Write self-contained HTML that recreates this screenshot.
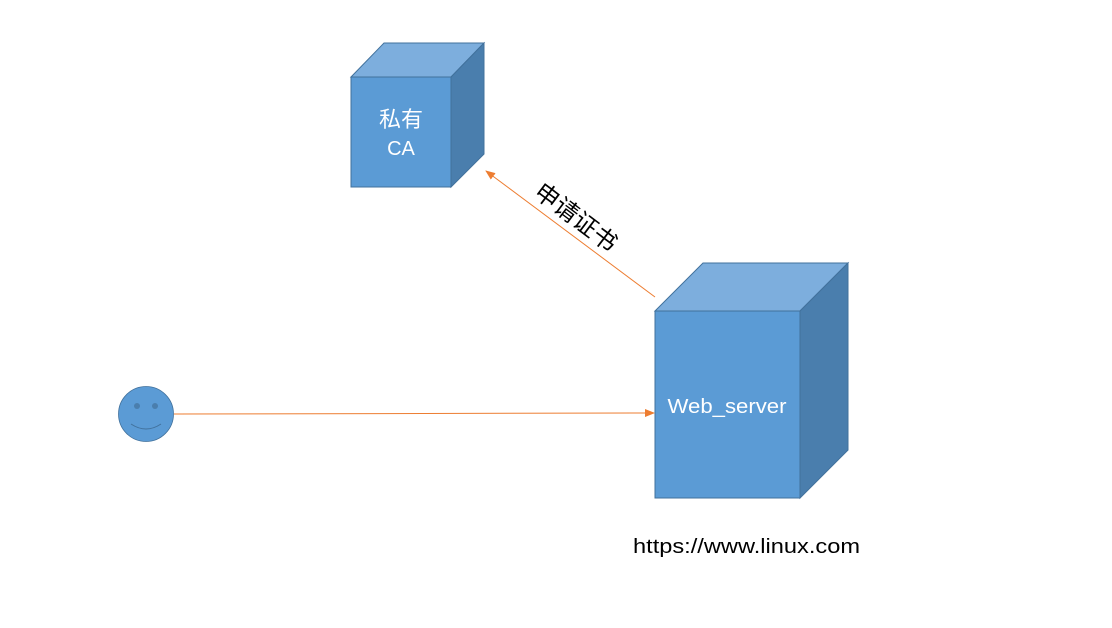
<!DOCTYPE html>
<html>
<head>
<meta charset="utf-8">
<style>
html,body{margin:0;padding:0;background:#fff;}
svg{display:block;}
text{font-family:"Liberation Sans","Noto Sans CJK SC",sans-serif;}
</style>
</head>
<body>
<svg width="1112" height="628" viewBox="0 0 1112 628" xmlns="http://www.w3.org/2000/svg">
  <defs>
    <marker id="ah" markerWidth="10" markerHeight="8" refX="9" refY="4" orient="auto" markerUnits="userSpaceOnUse">
      <path d="M0,0 L10,4 L0,8 Z" fill="#ED7D31"/>
    </marker>
  </defs>

  <!-- CA cube -->
  <polygon points="351,77 384,43 484,43 451,77" fill="#7DAEDD" stroke="#41719C" stroke-width="1"/>
  <polygon points="451,77 484,43 484,154 451,187" fill="#4A7EAD" stroke="#41719C" stroke-width="1"/>
  <rect x="351" y="77" width="100" height="110" fill="#5B9BD5" stroke="#41719C" stroke-width="1"/>
  <text x="401" y="127" font-size="22" fill="#fff" text-anchor="middle">私有</text>
  <text x="401" y="155" font-size="20" fill="#fff" text-anchor="middle">CA</text>

  <!-- Web server cube -->
  <polygon points="655,311 703,263 848,263 800,311" fill="#7DAEDD" stroke="#41719C" stroke-width="1"/>
  <polygon points="800,311 848,263 848,450 800,498" fill="#4A7EAD" stroke="#41719C" stroke-width="1"/>
  <rect x="655" y="311" width="145" height="187" fill="#5B9BD5" stroke="#41719C" stroke-width="1"/>
  <text x="727" y="413" font-size="20" fill="#fff" text-anchor="middle" textLength="119" lengthAdjust="spacingAndGlyphs">Web_server</text>

  <!-- arrows -->
  <line x1="655" y1="297" x2="486" y2="171" stroke="#ED7D31" stroke-width="1" marker-end="url(#ah)"/>
  <line x1="174" y1="414" x2="654" y2="413" stroke="#ED7D31" stroke-width="1" marker-end="url(#ah)"/>

  <!-- rotated label -->
  <text x="0" y="0" font-size="24" fill="#000" text-anchor="middle" transform="translate(571,224) rotate(37)">申请证书</text>

  <!-- smiley -->
  <circle cx="146" cy="414" r="27.5" fill="#5B9BD5" stroke="#41719C" stroke-width="0.8"/>
  <circle cx="137" cy="406" r="3" fill="#4A7EAD"/>
  <circle cx="155" cy="406" r="3" fill="#4A7EAD"/>
  <path d="M131,424 Q146,434 161,424" fill="none" stroke="#41719C" stroke-width="1"/>

  <!-- url -->
  <text x="633" y="553" font-size="20" fill="#000" textLength="227" lengthAdjust="spacingAndGlyphs">https://www.linux.com</text>
</svg>
</body>
</html>
